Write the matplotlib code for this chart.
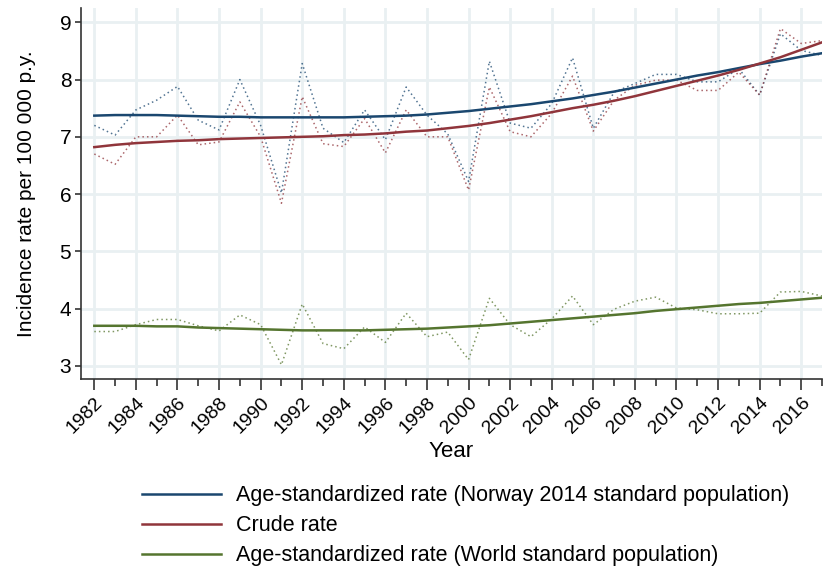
import matplotlib
matplotlib.use("Agg")
import matplotlib.pyplot as plt
import numpy as np

plt.rcParams['font.family'] = ['Liberation Sans', 'DejaVu Sans']

years = list(range(1982, 2018))

# Observed annual rates (dotted)
norway_obs = [7.20, 7.03, 7.47, 7.64, 7.88, 7.29, 7.12, 8.00, 7.20, 6.02,
              8.28, 7.15, 6.90, 7.47, 6.95, 7.87, 7.38, 7.05, 6.22, 8.32,
              7.24, 7.15, 7.58, 8.38, 7.15, 7.78, 7.93, 8.09, 8.09, 7.96,
              7.96, 8.19, 7.73, 8.80, 8.51, 8.42]
crude_obs = [6.70, 6.52, 7.00, 7.00, 7.38, 6.86, 6.91, 7.61, 7.00, 5.84,
             7.70, 6.88, 6.83, 7.32, 6.72, 7.47, 7.00, 7.00, 6.07, 7.87,
             7.09, 7.00, 7.41, 8.06, 7.10, 7.64, 7.90, 7.99, 7.99, 7.81,
             7.81, 8.13, 7.73, 8.89, 8.63, 8.68]
world_obs = [3.60, 3.60, 3.72, 3.81, 3.81, 3.70, 3.61, 3.89, 3.72, 3.02,
             4.08, 3.39, 3.30, 3.68, 3.41, 3.92, 3.51, 3.59, 3.11, 4.18,
             3.72, 3.51, 3.82, 4.22, 3.72, 3.99, 4.13, 4.20, 4.01, 3.98,
             3.91, 3.91, 3.92, 4.29, 4.30, 4.22]

# Smoothed trends (solid)
norway_fit = [7.37, 7.38, 7.38, 7.38, 7.37, 7.36, 7.35, 7.35, 7.34, 7.34,
              7.34, 7.34, 7.34, 7.35, 7.36, 7.37, 7.39, 7.42, 7.45, 7.49,
              7.53, 7.57, 7.62, 7.67, 7.73, 7.79, 7.86, 7.93, 8.00, 8.07,
              8.13, 8.20, 8.27, 8.33, 8.40, 8.46]
crude_fit = [6.82, 6.86, 6.89, 6.91, 6.93, 6.94, 6.96, 6.97, 6.98, 6.99,
             7.00, 7.01, 7.03, 7.04, 7.06, 7.09, 7.11, 7.15, 7.19, 7.24,
             7.30, 7.36, 7.43, 7.50, 7.56, 7.63, 7.71, 7.80, 7.89, 7.98,
             8.07, 8.17, 8.28, 8.39, 8.52, 8.65]
world_fit = [3.70, 3.70, 3.70, 3.69, 3.69, 3.67, 3.66, 3.65, 3.64, 3.63,
             3.62, 3.62, 3.62, 3.62, 3.63, 3.64, 3.65, 3.67, 3.69, 3.71,
             3.74, 3.77, 3.80, 3.83, 3.86, 3.89, 3.92, 3.96, 3.99, 4.02,
             4.05, 4.08, 4.10, 4.13, 4.16, 4.19]

labels = ["Age-standardized rate (Norway 2014 standard population)",
          "Crude rate",
          "Age-standardized rate (World standard population)"]
colors = ["#1a476f", "#90353b", "#55752f"]

major_years = list(range(1982, 2017, 2))
y_ticks = [3, 4, 5, 6, 7, 8, 9]

fig = plt.figure(figsize=(8.24, 5.70), dpi=100)
ax = fig.add_axes([0.0983, 0.335, 0.8993, 0.651])

grid_c = "#e9f0f2"
for gx in major_years:
    ax.axvline(gx, color=grid_c, lw=2, zorder=0)
for gy in y_ticks:
    ax.axhline(gy, color=grid_c, lw=2, zorder=0)

handles = []
for obs, fit, c, lab in zip([norway_obs, crude_obs, world_obs],
                            [norway_fit, crude_fit, world_fit], colors, labels):
    ax.plot(years, obs, linestyle=(0, (1, 2)), color=c, lw=1.1, alpha=0.75, zorder=2)
    h, = ax.plot(years, fit, color=c, lw=1.8, zorder=3, label=lab)
    handles.append(h)

ax.set_xlim(1981.36, 2017.0)
ax.set_ylim(2.77, 9.25)
ax.set_xticks(major_years)
ax.set_xticks(range(1983, 2018, 2), minor=True)
ax.set_xticklabels([str(y) for y in major_years], rotation=45, ha='right',
                   rotation_mode='anchor', fontsize=14)
ax.set_yticks(y_ticks)
ax.set_yticklabels([str(v) for v in y_ticks], fontsize=15)
ax.tick_params(axis='x', which='major', length=8, width=1.2, color='#333333', pad=3)
ax.tick_params(axis='x', which='minor', length=5, width=1.2, color='#333333')
ax.tick_params(axis='y', which='major', length=4, width=1.2, color='#333333', pad=3)

for s in ['top', 'right']:
    ax.spines[s].set_visible(False)
for s in ['left', 'bottom']:
    ax.spines[s].set_color('#333333')
    ax.spines[s].set_linewidth(1.2)

ax.set_xlabel("Year", fontsize=16, labelpad=3)
ax.set_ylabel("Incidence rate per 100 000 p.y.", fontsize=15, labelpad=17)

fig.legend(handles=handles, labels=labels, loc='upper left',
           bbox_to_anchor=(0.172, 0.149), frameon=False, fontsize=15.5,
           handlelength=3.7, handletextpad=0.7, labelspacing=0.42,
           borderpad=0, borderaxespad=0)

fig.savefig("out.png", dpi=100)
